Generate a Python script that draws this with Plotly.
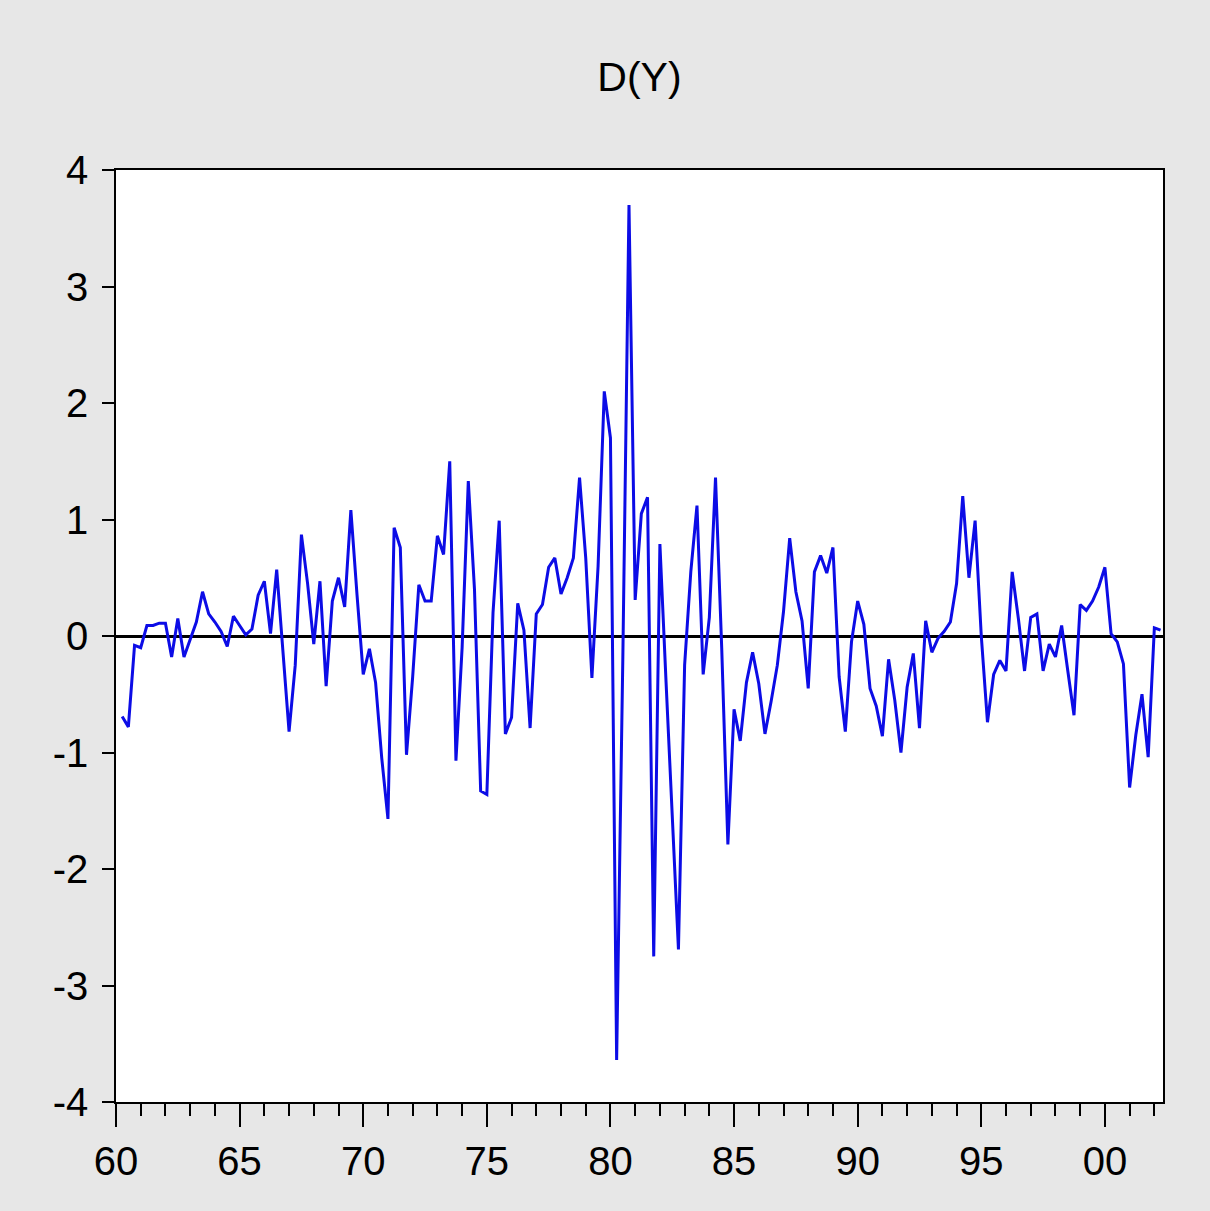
import pandas as pd
import plotly.graph_objects as go

# Quarterly first difference of Y, 1960Q2 - 2002Q2
start_quarter = "1960Q2"
d_y = [
    -0.69, -0.78, -0.08, -0.10, 0.09, 0.09, 0.11, 0.11, -0.18, 0.15,
    -0.18, -0.02, 0.12, 0.38, 0.19, 0.12, 0.04, -0.09, 0.17, 0.09,
    0.01, 0.06, 0.35, 0.47, 0.02, 0.57, -0.16, -0.82, -0.25, 0.87,
    0.45, -0.07, 0.47, -0.43, 0.30, 0.50, 0.25, 1.08, 0.35, -0.33,
    -0.11, -0.40, -1.05, -1.57, 0.93, 0.76, -1.02, -0.35, 0.44, 0.30,
    0.30, 0.86, 0.70, 1.50, -1.07, -0.10, 1.33, 0.40, -1.33, -1.36,
    0.20, 0.99, -0.84, -0.70, 0.28, 0.05, -0.79, 0.19, 0.27, 0.59,
    0.67, 0.36, 0.50, 0.67, 1.36, 0.67, -0.36, 0.60, 2.10, 1.70,
    -3.64, -0.20, 3.70, 0.31, 1.05, 1.19, -2.75, 0.79, -0.40, -1.50,
    -2.69, -0.25, 0.55, 1.12, -0.33, 0.16, 1.36, -0.10, -1.79, -0.63,
    -0.90, -0.40, -0.14, -0.41, -0.84, -0.56, -0.25, 0.21, 0.84, 0.38,
    0.13, -0.45, 0.55, 0.69, 0.54, 0.76, -0.35, -0.82, -0.05, 0.30,
    0.10, -0.45, -0.60, -0.86, -0.20, -0.55, -1.00, -0.44, -0.15, -0.79,
    0.13, -0.14, -0.02, 0.04, 0.12, 0.45, 1.20, 0.50, 0.99, 0.00,
    -0.74, -0.33, -0.21, -0.30, 0.55, 0.15, -0.30, 0.16, 0.19, -0.30,
    -0.07, -0.18, 0.09, -0.30, -0.68, 0.27, 0.22, 0.30, 0.42, 0.59,
    0.02, -0.05, -0.24, -1.30, -0.85, -0.50, -1.04, 0.07, 0.05,
]

x_tick_years = [1960, 1965, 1970, 1975, 1980, 1985, 1990, 1995, 2000]
x_tick_labels = ["60", "65", "70", "75", "80", "85", "90", "95", "00"]
y_tick_values = [-4, -3, -2, -1, 0, 1, 2, 3, 4]
y_tick_labels = ["-4", "-3", "-2", "-1", "0", "1", "2", "3", "4"]

quarters = pd.period_range(start_quarter, periods=len(d_y), freq="Q")
x_years = [p.year + (p.quarter - 1) / 4 for p in quarters]

FONT = "Liberation Sans Narrow, Arial Narrow, Liberation Sans, Arial, sans-serif"

fig = go.Figure()
fig.add_trace(go.Scatter(
    x=x_years, y=d_y, mode="lines",
    line=dict(color="#0c0ce6", width=3),
    hoverinfo="x+y", showlegend=False,
))

fig.update_layout(
    width=1210, height=1211,
    margin=dict(l=116, r=47, t=170, b=109),
    paper_bgcolor="#e7e7e7",
    plot_bgcolor="#ffffff",
    font=dict(family=FONT, size=40, color="#000000"),
    title=dict(
        text="D(Y)", x=0.5, xanchor="center", y=0.937, yanchor="middle",
        xref="paper", yref="container",
        font=dict(family=FONT, size=41, color="#000000"),
    ),
    xaxis=dict(
        range=[1960, 2002.35],
        tickmode="array", tickvals=x_tick_years, ticktext=x_tick_labels,
        ticks="outside", ticklen=23, tickwidth=1.5, tickcolor="#000000",
        minor=dict(tick0=1960, dtick=1, ticks="outside", ticklen=12,
                   tickwidth=1.5, tickcolor="#000000", showgrid=False),
        showgrid=False, zeroline=False,
        showline=True, linecolor="#000000", linewidth=1.5, mirror=True,
        ticklabelstandoff=0,
        tickfont=dict(family=FONT, size=40),
    ),
    yaxis=dict(
        range=[-4, 4],
        tickmode="array", tickvals=y_tick_values, ticktext=y_tick_labels,
        ticks="outside", ticklen=12, tickwidth=1.5, tickcolor="#000000",
        showgrid=False,
        zeroline=True, zerolinecolor="#000000", zerolinewidth=3,
        showline=True, linecolor="#000000", linewidth=1.5, mirror=True,
        ticklabelstandoff=6,
        tickfont=dict(family=FONT, size=40),
    ),
)

fig.write_html("out.html")
